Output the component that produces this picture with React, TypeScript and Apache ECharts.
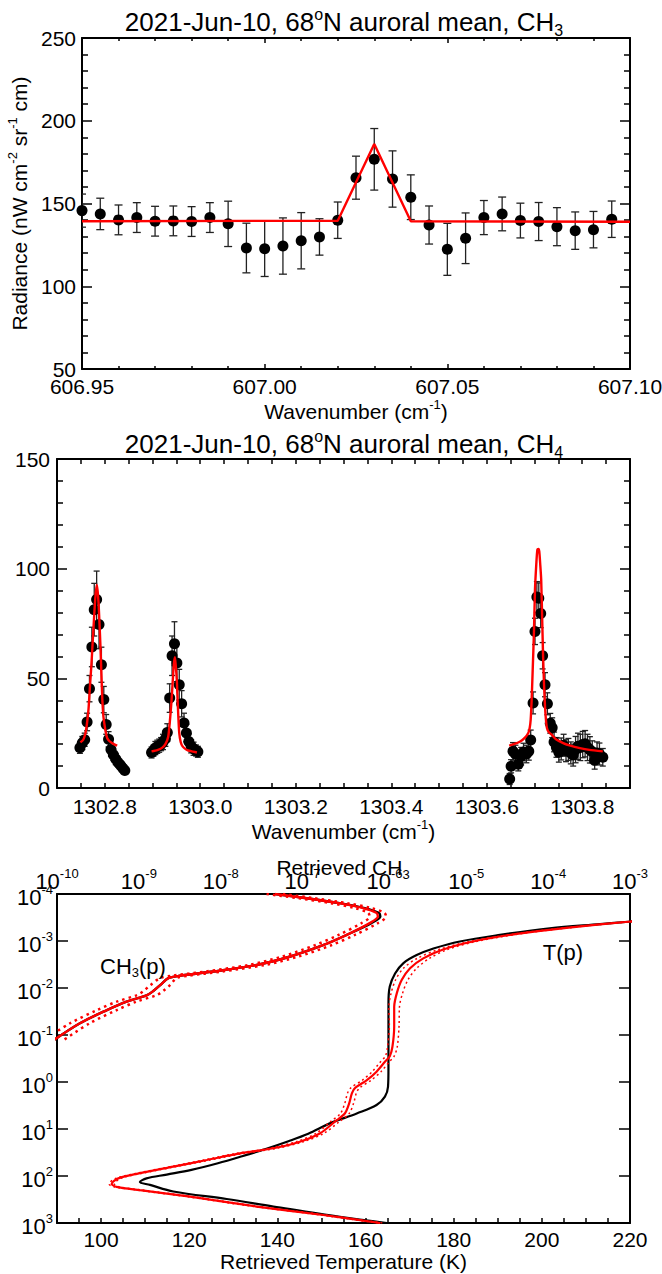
import React, { useEffect, useRef } from 'react';
import * as echarts from 'echarts';

const FONT = "'Liberation Sans', Arial, Helvetica, sans-serif";

// ---------------- Panel 1 : CH3 spectrum ----------------
const ch3Wavenumber = [606.950, 606.955, 606.960, 606.965, 606.970, 606.975, 606.980, 606.985, 606.990, 606.995,
  607.000, 607.005, 607.010, 607.015, 607.020, 607.025, 607.030, 607.035, 607.040, 607.045,
  607.050, 607.055, 607.060, 607.065, 607.070, 607.075, 607.080, 607.085, 607.090, 607.095];
const ch3Radiance = [145.7, 143.7, 140.1, 141.5, 139.3, 139.5, 139.1, 141.5, 137.7, 123.1,
  122.7, 124.3, 127.5, 129.8, 139.9, 165.6, 176.7, 164.8, 153.8, 137.0,
  122.3, 129.0, 141.5, 143.7, 139.7, 139.1, 136.0, 133.6, 134.2, 140.5];
const ch3Error = [10, 9.5, 9, 9, 9, 9, 9, 9, 13.7, 15,
  16.8, 17, 17, 11, 11, 13, 18.6, 17, 13.5, 11.5,
  15.7, 15.3, 10.3, 10.2, 10.5, 11.5, 11.5, 11.3, 11, 11];
const ch3FitWavenumber = [606.95, 607.02, 607.03, 607.04, 607.10];
const ch3FitRadiance = [139.3, 139.6, 186.0, 139.3, 139.0];

// ---------------- Panel 2 : CH4 spectrum ----------------
const ch4Wavenumber = [
  1302.748, 1302.753, 1302.758, 1302.763, 1302.768, 1302.773, 1302.778, 1302.783, 1302.788, 1302.793,
  1302.798, 1302.803, 1302.808, 1302.813, 1302.818, 1302.823, 1302.828, 1302.833, 1302.838, 1302.842,
  1302.898, 1302.902, 1302.906, 1302.910, 1302.914, 1302.918, 1302.922, 1302.927, 1302.931, 1302.936,
  1302.941, 1302.946, 1302.951, 1302.956, 1302.961, 1302.966, 1302.971, 1302.976, 1302.981, 1302.986,
  1302.991, 1302.995,
  1303.648, 1303.651, 1303.655, 1303.660, 1303.666, 1303.672, 1303.677, 1303.683, 1303.688, 1303.692,
  1303.697, 1303.701, 1303.705, 1303.709, 1303.713, 1303.717, 1303.722, 1303.727, 1303.733, 1303.737,
  1303.741, 1303.746, 1303.751, 1303.756, 1303.761, 1303.766, 1303.771, 1303.776, 1303.781, 1303.786,
  1303.791, 1303.796, 1303.801, 1303.806, 1303.811, 1303.816, 1303.821, 1303.826, 1303.831, 1303.836,
  1303.843];
const ch4Radiance = [
  18.3, 20.5, 22.0, 30.1, 45.3, 64.3, 81.3, 85.9, 74.5, 56.2,
  40.3, 29.0, 22.2, 17.5, 15.2, 13.2, 11.6, 10.4, 9.0, 8.0,
  16.2, 17.0, 18.2, 18.8, 19.3, 20.0, 21.0, 22.5, 25.3, 41.0,
  60.3, 65.8, 57.0, 47.1, 38.4, 29.6, 25.1, 21.2, 19.0, 17.9,
  17.1, 16.5,
  4.1, 9.9, 16.7, 15.5, 10.8, 14.5, 16.4, 15.5, 16.7, 21.9,
  38.8, 71.4, 87.1, 86.5, 79.6, 60.3, 47.1, 38.4, 29.5, 27.5,
  21.0, 18.5, 16.3, 17.8, 19.5, 17.0, 17.6, 16.0, 15.0, 17.5,
  19.0, 18.5, 19.8, 20.2, 18.5, 17.4, 16.5, 12.6, 16.0, 15.5,
  14.0];
const ch4Error = [
  2.5, 3, 3, 4, 6, 9, 12, 13, 11, 8,
  6, 4.5, 3.5, 3, 2.5, 2.5, 2, 2, 2, 1.5,
  2.5, 2.5, 3, 3, 3, 3, 3.5, 3.5, 4, 6.5,
  9, 10, 8.5, 7, 6, 4.5, 4, 3.5, 3, 3,
  2.5, 2.5,
  2.5, 3, 4, 4, 3, 4, 4, 4, 4, 4.5,
  5, 6, 7, 7, 6.5, 6, 5.5, 5, 4.5, 4.5,
  4.5, 4.5, 4.5, 5, 5, 5, 5, 5, 5, 6,
  6, 6, 6, 6, 6, 6, 5, 4, 5, 5,
  4];
const ch4FitA = [[1302.749, 20.8], [1302.755, 22.0], [1302.759, 24.5], [1302.762, 28.1], [1302.766, 36], [1302.769, 46.3],
  [1302.772, 56], [1302.775, 67.6], [1302.778, 79], [1302.780, 85.9], [1302.783, 92.7], [1302.785, 90], [1302.787, 84.4],
  [1302.789, 75], [1302.791, 64.6], [1302.793, 52], [1302.795, 40], [1302.797, 33], [1302.799, 29.6], [1302.802, 25.5],
  [1302.805, 22.8], [1302.810, 21.3], [1302.815, 20.5], [1302.820, 19.9], [1302.826, 19.3]];
const ch4FitB = [[1302.898, 16.7], [1302.910, 17.3], [1302.920, 18.3], [1302.927, 20.0], [1302.933, 23.5], [1302.937, 32],
  [1302.940, 40.3], [1302.943, 51], [1302.945, 57], [1302.947, 59.6], [1302.949, 55], [1302.951, 49], [1302.952, 43.3],
  [1302.954, 33], [1302.956, 25.1], [1302.959, 21], [1302.963, 19.0], [1302.970, 17.6], [1302.975, 17.1], [1302.985, 16.6],
  [1302.993, 16.2]];
const ch4FitC = [[1303.647, 19.3], [1303.660, 20.2], [1303.670, 21.2], [1303.680, 23], [1303.687, 25.1], [1303.690, 27.5],
  [1303.692, 31.1], [1303.694, 40], [1303.696, 52.4], [1303.699, 72], [1303.701, 90.4], [1303.704, 103], [1303.706, 108.7],
  [1303.708, 109], [1303.710, 107.9], [1303.712, 102], [1303.714, 95], [1303.716, 78], [1303.718, 60], [1303.720, 47],
  [1303.722, 37.2], [1303.724, 31], [1303.726, 27.4], [1303.730, 25.5], [1303.736, 24.3], [1303.745, 22.2], [1303.760, 20.5],
  [1303.775, 19.3], [1303.795, 18.2], [1303.815, 17.4], [1303.843, 16.7]];

// ---------------- Panel 3 : retrieved profiles ----------------
// log10(pressure / bar)
const tempPriorT = [164.8, 154.2, 139.1, 128.5, 116.4, 111.1, 108.8, 110.3, 114.9, 120.5, 126.5, 132.0, 137.5, 142.5, 147.0,
  151.9, 158.0, 162.5, 164.4, 165.1, 165.2, 165.2, 165.2, 165.2, 165.5, 166.7, 168.6, 171.6, 175.4, 181.4, 190.5, 201.8, 213.2, 219.6, 228];
const tempPriorLogP = [3.0, 2.87, 2.65, 2.49, 2.33, 2.19, 2.13, 2.05, 1.97, 1.87, 1.73, 1.58, 1.42, 1.26, 1.10,
  0.88, 0.67, 0.49, 0.31, 0.10, -0.3, -0.7, -1.2, -1.67, -2.03, -2.31, -2.53, -2.70, -2.84, -2.99, -3.13, -3.27, -3.36, -3.41, -3.47];
const tempRetT = [163.3, 150.4, 135.3, 120.2, 108.8, 103.5, 102.4, 103.9, 108.8, 116.4, 124.0, 131.5, 139.1, 145.1, 149.7,
  153.1, 155.3, 156.3, 156.9, 157.6, 160.3, 162.5, 164.4, 165.5, 166.1, 166.5, 166.5, 167.1, 168.2, 170.1, 173.1, 177.6,
  184.4, 194.3, 205.6, 219.6, 228];
const tempRetLogP = [3.0, 2.83, 2.65, 2.44, 2.30, 2.23, 2.17, 2.05, 1.94, 1.80, 1.66, 1.52, 1.41, 1.27, 1.09,
  0.84, 0.67, 0.45, 0.24, 0.13, -0.04, -0.22, -0.43, -0.55, -0.75, -1.18, -1.60, -1.89, -2.17, -2.42, -2.63, -2.82,
  -2.99, -3.15, -3.28, -3.41, -3.47];
const tempRetErr = [0.5, 0.6, 0.6, 0.6, 0.6, 0.6, 0.6, 0.6, 0.6, 0.6, 0.7, 0.8, 0.8, 0.8, 0.9,
  1.0, 1.0, 1.0, 1.0, 1.0, 1.0, 1.0, 1.0, 1.0, 1.1, 1.1, 1.2, 1.3, 1.4, 1.5, 1.4, 1.0,
  0.7, 0.5, 0.4, 0.3, 0.3];
// log10(CH3 mole fraction)
const ch3RetLogQ = [-7.34, -6.95, -6.54, -6.26, -6.10, -6.08, -6.18, -6.46, -6.75, -7.15, -7.56, -8.09, -8.50, -8.64,
  -8.74, -8.82, -8.90, -9.15, -9.39, -9.72, -10.05];
const ch3PriorLogQ = [-7.34, -6.95, -6.53, -6.24, -6.07, -6.05, -6.16, -6.46, -6.75, -7.15, -7.56, -8.09, -8.50, -8.64,
  -8.74, -8.82, -8.90, -9.15, -9.39, -9.72, -10.05];
const ch3LogP = [-4.0, -3.91, -3.80, -3.70, -3.60, -3.52, -3.38, -3.13, -2.91, -2.67, -2.49, -2.35, -2.26, -2.21,
  -2.06, -1.94, -1.85, -1.71, -1.53, -1.25, -0.88];
const ch3RetErrDex = [0.1, 0.1, 0.1, 0.1, 0.1, 0.1, 0.1, 0.1, 0.1, 0.1, 0.1, 0.1, 0.1, 0.1,
  0.12, 0.12, 0.12, 0.12, 0.12, 0.12, 0.12];

// ---------------- helpers ----------------
const richSet = (F: number, f: number, P: number) => ({
  n: { fontSize: F, lineHeight: F, fontFamily: FONT, color: '#000', fill: '#000', padding: [P, 0, 0, 0], verticalAlign: 'top' },
  s: { fontSize: f, lineHeight: f, fontFamily: FONT, color: '#000', fill: '#000', padding: [0, 0, 0, 0], verticalAlign: 'top' },
  d: { fontSize: f, lineHeight: f, fontFamily: FONT, color: '#000', fill: '#000', padding: [Math.round(P + F * 0.5), 0, 0, 0], verticalAlign: 'top' },
});

const axisLine = { show: true, onZero: false, lineStyle: { color: '#000', width: 2 } };
const tick = (len: number, show = true) => ({ show, inside: true, length: len, lineStyle: { color: '#000', width: 1.5 } });
const minor = (n: number, len: number) => ({ show: true, splitNumber: n, length: len, lineStyle: { color: '#000', width: 1.5 } });
const noSplit = { show: false };
const plainLabel = (margin: number, extra: any = {}) => ({
  show: true, color: '#000', fontFamily: FONT, fontSize: 21, margin, ...extra,
});
const expFormatter = (v: number) => {
  const e = Math.round(Math.log10(v));
  return `{n|10}{s|${e}}`;
};

const errorBars = (xi: number, yi: number, xs: number[], ys: number[], es: number[], cap: number) => ({
  type: 'custom',
  xAxisIndex: xi,
  yAxisIndex: yi,
  clip: true,
  z: 2,
  data: xs.map((x, i) => [x, ys[i] - es[i], ys[i] + es[i]]),
  encode: { x: 0, y: [1, 2] },
  renderItem: (params: any, api: any) => {
    const lo = api.coord([api.value(0), api.value(1)]);
    const hi = api.coord([api.value(0), api.value(2)]);
    const style = { stroke: '#222', lineWidth: 1.3, fill: 'none' };
    return {
      type: 'group',
      children: [
        { type: 'line', shape: { x1: lo[0], y1: lo[1], x2: hi[0], y2: hi[1] }, style },
        { type: 'line', shape: { x1: lo[0] - cap, y1: lo[1], x2: lo[0] + cap, y2: lo[1] }, style },
        { type: 'line', shape: { x1: hi[0] - cap, y1: hi[1], x2: hi[0] + cap, y2: hi[1] }, style },
      ],
    };
  },
});

const points = (xi: number, yi: number, xs: number[], ys: number[], size: number) => ({
  type: 'scatter', xAxisIndex: xi, yAxisIndex: yi, z: 3, symbol: 'circle', symbolSize: size,
  itemStyle: { color: '#000', opacity: 1 }, data: xs.map((x, i) => [x, ys[i]]),
});

const redLine = (xi: number, yi: number, data: number[][], width = 2.2) => ({
  type: 'line', xAxisIndex: xi, yAxisIndex: yi, z: 4, symbol: 'none', showSymbol: false,
  lineStyle: { color: '#ff0000', width }, itemStyle: { color: '#ff0000' }, data,
});

function buildOption() {
  const p10 = (lp: number) => Math.pow(10, lp);
  const tPrior = tempPriorT.map((t, i) => [t, p10(tempPriorLogP[i])]);
  const tRet = tempRetT.map((t, i) => [t, p10(tempRetLogP[i])]);
  const tRetLo = tempRetT.map((t, i) => [t - tempRetErr[i], p10(tempRetLogP[i])]);
  const tRetHi = tempRetT.map((t, i) => [t + tempRetErr[i], p10(tempRetLogP[i])]);
  const qRet = ch3RetLogQ.map((q, i) => [p10(q), p10(ch3LogP[i])]);
  const qPrior = ch3PriorLogQ.map((q, i) => [p10(q), p10(ch3LogP[i])]);
  const qLo = ch3RetLogQ.map((q, i) => [p10(q - ch3RetErrDex[i]), p10(ch3LogP[i])]);
  const qHi = ch3RetLogQ.map((q, i) => [p10(q + ch3RetErrDex[i]), p10(ch3LogP[i])]);

  const r21 = richSet(21, 13, 3);
  const r22 = richSet(22, 13, 3);

  return {
    animation: false,
    backgroundColor: '#fff',
    textStyle: { fontFamily: FONT },
    grid: [
      { left: 82, top: 38, width: 548, height: 331, containLabel: false, outerBoundsMode: 'none' },
      { left: 57, top: 459, width: 573, height: 329, containLabel: false, outerBoundsMode: 'none' },
      { left: 57, top: 894, width: 573, height: 329, containLabel: false, outerBoundsMode: 'none' },
    ],
    xAxis: [
      {
        gridIndex: 0, type: 'value', position: 'bottom', min: 606.95, max: 607.10, interval: 0.05,
        axisLine, axisTick: tick(5), minorTick: minor(5, 3), splitLine: noSplit, minorSplitLine: noSplit,
        axisLabel: plainLabel(7, { formatter: (v: number) => v.toFixed(2) }),
        name: '{n|Wavenumber (cm}{s|-1}{n|)}', nameLocation: 'middle', nameGap: 26,
        nameTextStyle: { rich: r21 },
      },
      {
        gridIndex: 0, type: 'value', position: 'top', min: 606.95, max: 607.10, interval: 0.05,
        axisLine, axisTick: tick(5), minorTick: minor(5, 3), splitLine: noSplit, axisLabel: { show: false },
      },
      {
        gridIndex: 1, type: 'value', position: 'bottom', min: 1302.7, max: 1303.9, interval: 0.05,
        axisLine, axisTick: tick(5), splitLine: noSplit,
        axisLabel: plainLabel(8, {
          interval: 0,
          formatter: (v: number) => (Math.abs(v * 5 - Math.round(v * 5)) < 1e-6 ? v.toFixed(1) : ''),
        }),
        name: '{n|Wavenumber (cm}{s|-1}{n|)}', nameLocation: 'middle', nameGap: 28,
        nameTextStyle: { rich: r21 },
      },
      {
        gridIndex: 1, type: 'value', position: 'top', min: 1302.7, max: 1303.9, interval: 0.05,
        axisLine, axisTick: tick(5), splitLine: noSplit, axisLabel: { show: false },
      },
      {
        gridIndex: 2, type: 'value', position: 'bottom', min: 90, max: 220, interval: 5,
        axisLine, axisTick: tick(5), splitLine: noSplit,
        axisLabel: plainLabel(6, {
          interval: 0,
          formatter: (v: number) => (Math.round(v) % 20 === 0 ? String(Math.round(v)) : ''),
        }),
        name: 'Retrieved Temperature (K)', nameLocation: 'middle', nameGap: 28,
        nameTextStyle: { color: '#000', fontFamily: FONT, fontSize: 21 },
      },
      {
        gridIndex: 2, type: 'log', logBase: 10, position: 'top', min: 1e-10, max: 1e-3,
        axisLine, axisTick: { show: false }, splitLine: noSplit,
        axisLabel: { show: true, margin: 5, formatter: expFormatter, rich: r22 },
      },
    ],
    yAxis: [
      {
        gridIndex: 0, type: 'value', position: 'left', min: 50, max: 250, interval: 50,
        axisLine, axisTick: tick(10), minorTick: minor(5, 6), splitLine: noSplit, minorSplitLine: noSplit,
        axisLabel: plainLabel(6),
        name: '{n|Radiance (nW cm}{s|-2}{n| sr}{s|-1}{n| cm)}', nameLocation: 'middle', nameGap: 50,
        nameTextStyle: { rich: r21 },
      },
      {
        gridIndex: 0, type: 'value', position: 'right', min: 50, max: 250, interval: 50,
        axisLine, axisTick: tick(10), minorTick: minor(5, 6), splitLine: noSplit, axisLabel: { show: false },
      },
      {
        gridIndex: 1, type: 'value', position: 'left', min: 0, max: 150, interval: 50,
        axisLine, axisTick: tick(10), minorTick: minor(5, 6), splitLine: noSplit, minorSplitLine: noSplit,
        axisLabel: plainLabel(7),
      },
      {
        gridIndex: 1, type: 'value', position: 'right', min: 0, max: 150, interval: 50,
        axisLine, axisTick: tick(10), minorTick: minor(5, 6), splitLine: noSplit, axisLabel: { show: false },
      },
      {
        gridIndex: 2, type: 'log', logBase: 10, position: 'left', min: 1e-4, max: 1e3, inverse: true,
        axisLine, axisTick: tick(11), splitLine: noSplit,
        axisLabel: { show: true, margin: 4, formatter: expFormatter, rich: r22 },
      },
      {
        gridIndex: 2, type: 'log', logBase: 10, position: 'right', min: 1e-4, max: 1e3, inverse: true,
        axisLine, axisTick: tick(11), splitLine: noSplit, axisLabel: { show: false },
      },
    ],
    graphic: [
      {
        type: 'text', x: 344, y: 19, z: 10,
        style: { text: '{n|2021-Jun-10, 68}{s|o}{n|N auroral mean, CH}{d|3}', rich: richSet(26, 16, 3), align: 'center', verticalAlign: 'middle' },
      },
      {
        type: 'text', x: 344, y: 441, z: 10,
        style: { text: '{n|2021-Jun-10, 68}{s|o}{n|N auroral mean, CH}{d|4}', rich: richSet(26, 16, 3), align: 'center', verticalAlign: 'middle' },
      },
      {
        type: 'text', x: 343, y: 864, z: 10,
        style: { text: '{n|Retrieved CH}{d|3}', rich: r21, align: 'center', verticalAlign: 'middle' },
      },
      {
        type: 'text', x: 133, y: 963, z: 10,
        style: { text: '{n|CH}{d|3}{n|(p)}', rich: r22, align: 'center', verticalAlign: 'middle' },
      },
      {
        type: 'text', x: 563, y: 949, z: 10,
        style: { text: '{n|T(p)}', rich: r22, align: 'center', verticalAlign: 'middle' },
      },
    ],
    series: [
      // panel 1
      errorBars(0, 0, ch3Wavenumber, ch3Radiance, ch3Error, 4),
      points(0, 0, ch3Wavenumber, ch3Radiance, 11),
      redLine(0, 0, ch3FitWavenumber.map((x, i) => [x, ch3FitRadiance[i]]), 2.4),
      // panel 2
      errorBars(2, 2, ch4Wavenumber, ch4Radiance, ch4Error, 3),
      points(2, 2, ch4Wavenumber, ch4Radiance, 11),
      { ...redLine(2, 2, ch4FitA, 2.4), smooth: 0.2 },
      { ...redLine(2, 2, ch4FitB, 2.4), smooth: 0.2 },
      { ...redLine(2, 2, ch4FitC, 2.4), smooth: 0.2 },
      // panel 3 temperature
      {
        type: 'line', xAxisIndex: 4, yAxisIndex: 4, z: 3, symbol: 'none', smooth: 0.35, clip: true,
        lineStyle: { color: '#000', width: 2.2 }, data: tPrior,
      },
      {
        type: 'line', xAxisIndex: 4, yAxisIndex: 4, z: 4, symbol: 'none', smooth: 0.3, clip: true,
        lineStyle: { color: '#ff0000', width: 1.5, type: [2, 3] }, data: tRetLo,
      },
      {
        type: 'line', xAxisIndex: 4, yAxisIndex: 4, z: 4, symbol: 'none', smooth: 0.3, clip: true,
        lineStyle: { color: '#ff0000', width: 1.5, type: [2, 3] }, data: tRetHi,
      },
      {
        type: 'line', xAxisIndex: 4, yAxisIndex: 4, z: 5, symbol: 'none', smooth: 0.3, clip: true,
        lineStyle: { color: '#ff0000', width: 2.2 }, data: tRet,
      },
      // panel 3 CH3
      {
        type: 'line', xAxisIndex: 5, yAxisIndex: 4, z: 3, symbol: 'none', smooth: 0.3, clip: true,
        lineStyle: { color: '#000', width: 2.4 }, data: qPrior,
      },
      {
        type: 'line', xAxisIndex: 5, yAxisIndex: 4, z: 4, symbol: 'none', smooth: 0.3, clip: true,
        lineStyle: { color: '#ff0000', width: 2.5, type: [2.5, 4] }, data: qLo,
      },
      {
        type: 'line', xAxisIndex: 5, yAxisIndex: 4, z: 4, symbol: 'none', smooth: 0.3, clip: true,
        lineStyle: { color: '#ff0000', width: 2.5, type: [2.5, 4] }, data: qHi,
      },
      {
        type: 'line', xAxisIndex: 5, yAxisIndex: 4, z: 5, symbol: 'none', smooth: 0.3, clip: true,
        lineStyle: { color: '#ff0000', width: 2.4 }, data: qRet,
      },
    ],
  };
}

export default function App() {
  const ref = useRef<HTMLDivElement>(null);
  useEffect(() => {
    if (!ref.current) return;
    const chart = echarts.init(ref.current, undefined, { renderer: 'svg' });
    chart.setOption(buildOption() as any);
    return () => chart.dispose();
  }, []);
  return (
    <div
      ref={ref}
      style={{ position: 'absolute', left: 0, top: 0, width: 662, height: 1274, background: '#fff' }}
    />
  );
}
